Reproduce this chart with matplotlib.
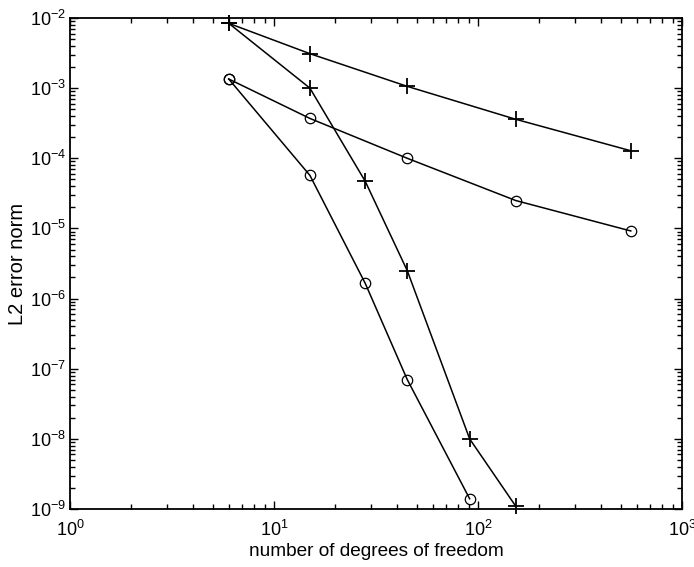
import matplotlib
matplotlib.use("Agg")
import matplotlib.pyplot as plt
from matplotlib.ticker import LogLocator, NullFormatter

plt.rcParams['font.family'] = ['Liberation Sans', 'DejaVu Sans']
plt.rcParams['mathtext.default'] = 'regular'

# data
dof_p = [6, 15, 45, 153, 561]
err_plus_h = [8.4e-3, 3.1e-3, 1.06e-3, 3.6e-4, 1.28e-4]
dof_p_steep = [6, 15, 28, 45, 91, 153]
err_plus_p = [8.4e-3, 1.0e-3, 4.7e-5, 2.5e-6, 1.0e-8, 1.1e-9]
dof_o = [6, 15, 45, 153, 561]
err_o_h = [1.35e-3, 3.7e-4, 1.0e-4, 2.5e-5, 9.2e-6]
dof_o_steep = [6, 15, 28, 45, 91]
err_o_p = [1.35e-3, 5.7e-5, 1.65e-6, 7.0e-8, 1.4e-9]

xlabel = "number of degrees of freedom"
ylabel = "L2 error norm"

fig = plt.figure(figsize=(6.94, 5.67), dpi=100)
ax = fig.add_axes([70/694, 1 - 509/567, 612/694, 491/567])

lw = 1.1
ax.loglog(dof_p, err_plus_h, '-', color='black', marker='+', ms=11, mew=1.3, lw=lw, clip_on=False)
ax.loglog(dof_p_steep, err_plus_p, '-', color='black', marker='+', ms=11, mew=1.3, lw=lw, clip_on=False)
ax.loglog(dof_o, err_o_h, '-', color='black', marker='o', ms=7.5, mfc='none', mew=0.9, lw=lw, clip_on=False)
ax.loglog(dof_o_steep, err_o_p, '-', color='black', marker='o', ms=7.5, mfc='none', mew=0.9, lw=lw, clip_on=False)

ax.set_xlim(1, 1000)
ax.set_ylim(1e-9, 1e-2)
ax.xaxis.set_major_locator(LogLocator(base=10, numticks=10))
ax.yaxis.set_major_locator(LogLocator(base=10, numticks=10))
ax.xaxis.set_minor_locator(LogLocator(base=10, subs=range(2, 10), numticks=20))
ax.yaxis.set_minor_locator(LogLocator(base=10, subs=range(2, 10), numticks=20))
ax.xaxis.set_minor_formatter(NullFormatter())
ax.yaxis.set_minor_formatter(NullFormatter())

ax.tick_params(which='both', direction='in', top=True, right=True, width=1.0, colors='black', labelsize=13)
ax.tick_params(which='major', length=6)
ax.tick_params(which='minor', length=3.5)
ax.tick_params(axis='x', which='major', pad=8)
ax.tick_params(axis='y', which='major', pad=3)
for s in ax.spines.values():
    s.set_linewidth(1.3)

ax.set_xlabel(xlabel, fontsize=13.7, labelpad=2)
ax.set_ylabel(ylabel, fontsize=14.5, labelpad=2)

fig.savefig("out.png", dpi=100)
